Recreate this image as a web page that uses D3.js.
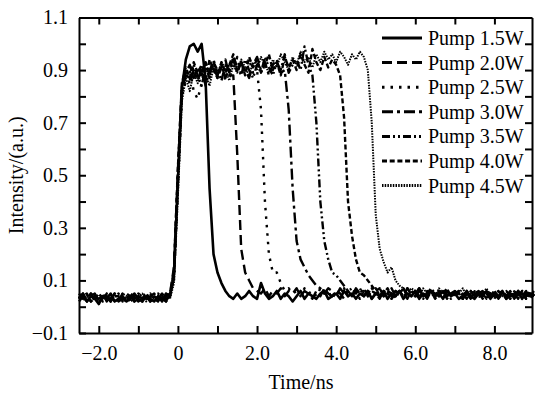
<!DOCTYPE html>
<html>
<head>
<meta charset="utf-8">
<script src="https://cdn.jsdelivr.net/npm/d3@7"></script>
<style>
  body { margin: 0; background: #fff; }
  svg text { font-family: "Liberation Serif", Tinos, "Times New Roman", "DejaVu Serif", serif; fill: #000; }
</style>
</head>
<body>
<div id="container"></div>
<script>
// sampling grid of the traces (ns)
const timeStart = -2.5;
const timeStep = 0.1;

const pump15 = [
  0.03,0.05,0.02,0.04,0.03,0.01,0.04,0.03,0.05,0.02,
  0.03,0.04,0.02,0.03,0.05,0.03,0.02,0.04,0.03,0.02,
  0.04,0.02,0.05,0.04,0.12,
  0.48,0.83,0.94,0.99,1.00, 0.97,1.00,0.86,0.45,0.20, 0.13,0.09,0.06,0.04,0.03,
  0.05,0.03,0.04,0.06,0.04, 0.03,0.09,0.05,0.03,0.04, 0.06,0.03,0.05,0.04,0.02,
  0.04,0.06,0.03,0.05,0.04, 0.03,0.05,0.06,0.03,0.04, 0.05,0.03,0.06,0.04,0.05,
  0.03,0.05,0.04,0.06,0.03, 0.05,0.04,0.06,0.03,0.05, 0.04,0.06,0.03,0.05,0.04,
  0.06,0.03,0.05,0.04,0.06, 0.04,0.05,0.03,0.06,0.04, 0.05,0.03,0.04,0.06,0.04,
  0.03,0.05,0.04,0.06,0.03, 0.05,0.04,0.06,0.03,0.05, 0.04,0.06,0.03,0.05,0.04,0.05
];
const pump20 = [
  0.02,0.04,0.03,0.05,0.02,0.03,0.04,0.02,0.03,0.05,
  0.02,0.03,0.05,0.04,0.02,0.04,0.03,0.05,0.02,0.04,
  0.03,0.05,0.02,0.05,0.15,
  0.52,0.84,0.89,0.92,0.87, 0.91,0.88,0.93,0.89,0.92, 0.87,0.91,0.94,0.88,0.88,
  0.58,0.22,0.13,0.10,0.07, 0.06,0.05,0.07,0.04,0.06, 0.05,0.07,0.04,0.06,0.05,
  0.07,0.04,0.06,0.05,0.03, 0.06,0.04,0.07,0.05,0.04, 0.06,0.05,0.03,0.06,0.04,
  0.07,0.05,0.04,0.06,0.03, 0.05,0.07,0.04,0.06,0.05, 0.03,0.06,0.04,0.07,0.05,
  0.04,0.06,0.05,0.03,0.06, 0.05,0.04,0.06,0.03,0.05, 0.06,0.04,0.05,0.03,0.06,
  0.04,0.06,0.03,0.05,0.04, 0.06,0.03,0.05,0.04,0.06, 0.03,0.05,0.04,0.06,0.03,0.05
];
const pump25 = [
  0.04,0.02,0.03,0.05,0.03,0.04,0.02,0.05,0.03,0.04,
  0.05,0.02,0.04,0.03,0.02,0.05,0.04,0.03,0.05,0.03,
  0.02,0.04,0.03,0.06,0.10,
  0.45,0.80,0.86,0.90,0.82, 0.79,0.85,0.92,0.88,0.94, 0.89,0.92,0.86,0.93,0.90,
  0.95,0.88,0.91,0.94,0.89, 0.90,0.75,0.40,0.20,0.13, 0.13,0.09,0.06,0.07,0.05,
  0.06,0.04,0.07,0.05,0.06, 0.04,0.07,0.05,0.06,0.03, 0.06,0.05,0.07,0.04,0.06,
  0.05,0.03,0.06,0.04,0.07, 0.05,0.06,0.04,0.06,0.03, 0.06,0.04,0.05,0.07,0.04,
  0.05,0.03,0.06,0.05,0.04, 0.06,0.04,0.05,0.03,0.06, 0.04,0.06,0.03,0.05,0.04,
  0.05,0.03,0.06,0.04,0.05, 0.03,0.06,0.04,0.05,0.03, 0.05,0.04,0.06,0.03,0.05,0.04
];
const pump30 = [
  0.03,0.05,0.02,0.04,0.05,0.02,0.03,0.04,0.02,0.05,
  0.03,0.04,0.02,0.05,0.03,0.04,0.02,0.03,0.04,0.05,
  0.03,0.02,0.04,0.05,0.13,
  0.50,0.82,0.88,0.85,0.90, 0.86,0.91,0.84,0.90,0.93, 0.88,0.92,0.87,0.91,0.94,
  0.89,0.93,0.90,0.87,0.92, 0.95,0.90,0.93,0.88,0.92, 0.94,0.89,0.90,0.75,0.45,
  0.25,0.18,0.15,0.12,0.10, 0.08,0.07,0.05,0.07,0.06, 0.04,0.07,0.05,0.06,0.04,
  0.06,0.05,0.07,0.04,0.06, 0.05,0.03,0.06,0.05,0.07, 0.04,0.06,0.05,0.03,0.06,
  0.05,0.07,0.04,0.05,0.06, 0.03,0.05,0.06,0.04,0.05, 0.06,0.04,0.03,0.05,0.06,
  0.04,0.05,0.06,0.03,0.05, 0.04,0.06,0.05,0.03,0.04, 0.06,0.04,0.05,0.03,0.06,0.04
];
const pump35 = [
  0.05,0.03,0.04,0.02,0.04,0.03,0.05,0.02,0.04,0.03,
  0.02,0.05,0.03,0.04,0.02,0.03,0.05,0.04,0.02,0.03,
  0.05,0.03,0.02,0.04,0.11,
  0.47,0.81,0.90,0.86,0.92, 0.88,0.84,0.91,0.87,0.93, 0.90,0.86,0.92,0.89,0.95,
  0.91,0.88,0.94,0.90,0.87, 0.92,0.89,0.95,0.91,0.88, 0.93,0.90,0.96,0.89,0.92,
  0.94,0.90,0.99,0.92,0.88, 0.70,0.40,0.25,0.18,0.13, 0.12,0.10,0.08,0.06,0.07,
  0.05,0.07,0.04,0.06,0.05, 0.07,0.04,0.06,0.05,0.03, 0.06,0.05,0.07,0.04,0.06,
  0.04,0.06,0.03,0.05,0.07, 0.05,0.04,0.06,0.05,0.03, 0.05,0.06,0.04,0.05,0.03,
  0.06,0.04,0.05,0.03,0.06, 0.05,0.03,0.06,0.04,0.05, 0.03,0.06,0.04,0.05,0.04,0.06
];
const pump40 = [
  0.03,0.04,0.05,0.02,0.03,0.05,0.03,0.04,0.02,0.04,
  0.04,0.03,0.02,0.05,0.04,0.02,0.03,0.05,0.03,0.04,
  0.02,0.05,0.03,0.04,0.14,
  0.53,0.85,0.91,0.87,0.93, 0.89,0.92,0.86,0.94,0.90, 0.87,0.93,0.89,0.92,0.96,
  0.90,0.93,0.88,0.95,0.91, 0.94,0.89,0.92,0.96,0.90, 0.93,0.88,0.95,0.91,0.94,
  0.90,0.96,0.92,0.89,0.98, 0.93,0.90,0.95,0.91,0.94, 0.92,0.88,0.72,0.40,0.27,
  0.18,0.13,0.12,0.10,0.08, 0.06,0.07,0.05,0.07,0.04, 0.06,0.05,0.07,0.04,0.06,
  0.05,0.07,0.04,0.06,0.05, 0.04,0.06,0.05,0.07,0.04, 0.06,0.05,0.03,0.06,0.04,
  0.05,0.06,0.04,0.05,0.03, 0.06,0.04,0.05,0.06,0.04, 0.05,0.03,0.06,0.04,0.05,0.04
];
const pump45 = [
  0.04,0.03,0.02,0.05,0.04,0.02,0.03,0.05,0.04,0.02,
  0.03,0.05,0.04,0.02,0.03,0.04,0.05,0.02,0.04,0.03,
  0.04,0.03,0.05,0.03,0.09,
  0.42,0.78,0.87,0.82,0.89, 0.85,0.90,0.88,0.84,0.91, 0.88,0.93,0.90,0.86,0.92,
  0.89,0.94,0.91,0.88,0.93, 0.90,0.95,0.92,0.89,0.94, 0.91,0.96,0.93,0.90,0.95,
  0.92,0.97,0.93,0.95,0.91, 0.96,0.93,0.97,0.94,0.96, 0.93,0.97,0.95,0.92,0.96,
  0.94,0.97,0.95,0.90,0.70, 0.35,0.22,0.17,0.13,0.15, 0.10,0.08,0.07,0.05,0.07,
  0.06,0.04,0.07,0.05,0.06, 0.04,0.07,0.05,0.06,0.04, 0.06,0.05,0.07,0.04,0.05,
  0.06,0.04,0.05,0.07,0.04, 0.05,0.06,0.04,0.05,0.03, 0.06,0.04,0.05,0.03,0.05,0.04
];

const seriesNames = ["Pump 1.5W", "Pump 2.0W", "Pump 2.5W", "Pump 3.0W", "Pump 3.5W", "Pump 4.0W", "Pump 4.5W"];
const seriesValues = [pump15, pump20, pump25, pump30, pump35, pump40, pump45];

const xTicks = [-2, -1, 0, 1, 2, 3, 4, 5, 6, 7, 8];
const xLabels = {"-2": "\u22122.0", "0": "0", "2": "2.0", "4": "4.0", "6": "6.0", "8": "8.0"};
const yTicks = [-0.1, 0, 0.1, 0.2, 0.3, 0.4, 0.5, 0.6, 0.7, 0.8, 0.9, 1.0, 1.1];
const yLabels = ["\u22120.1", "0.1", "0.3", "0.5", "0.7", "0.9", "1.1"];

const styles = [
  {dash: null, width: 2.6},
  {dash: "10,5", width: 2.4},
  {dash: "2.5,6", width: 2.4},
  {dash: "11,4,3,4", width: 2.4},
  {dash: "8,3,2,3,2,3", width: 2.4},
  {dash: "5,2.7", width: 2.4},
  {dash: "1.5,1.2", width: 2}
];

const serif = "'Liberation Serif', Tinos, 'Times New Roman', 'DejaVu Serif', serif";

const margin = {top: 17.5, right: 3, bottom: 61, left: 79};
const outerW = 535, outerH = 394;
const width = outerW - margin.left - margin.right;
const height = outerH - margin.top - margin.bottom;

const svg = d3.select("#container")
  .append("svg")
  .attr("width", outerW)
  .attr("height", outerH)
  .attr("font-family", serif);

const g = svg.append("g")
  .attr("transform", `translate(${margin.left},${margin.top})`);

const x = d3.scaleLinear().domain([-2.5, 8.95]).range([0, width]);
const y = d3.scaleLinear().domain([-0.1, 1.1]).range([height, 0]);

const line = d3.line()
  .x(d => x(d.t))
  .y(d => y(d.v));

seriesValues.forEach((vals, k) => {
  const pts = vals.map((v, i) => ({t: timeStart + i * timeStep, v: v}));
  g.append("path")
    .datum(pts)
    .attr("fill", "none")
    .attr("stroke", "#000")
    .attr("stroke-width", styles[k].width)
    .attr("stroke-dasharray", styles[k].dash)
    .attr("stroke-linejoin", "round")
    .attr("d", line);
});

// axes, ticks pointing inward on all four sides
const fmtX = d => xLabels[String(d)] || "";
const fmtY = d => {
  const s = d3.format(".1f")(d);
  return yLabels.includes(s) ? s : "";
};

const styleAxis = sel => {
  sel.attr("font-family", serif).attr("font-size", 20);
  sel.select(".domain").attr("stroke-width", 2);
  sel.selectAll(".tick line").attr("stroke-width", 2);
  sel.selectAll(".tick text").style("font-family", serif).style("font-size", "20px");
};

g.append("g")
  .attr("transform", `translate(0,${height})`)
  .call(d3.axisBottom(x).tickValues(xTicks).tickSize(-7).tickSizeOuter(0).tickPadding(13).tickFormat(fmtX))
  .call(styleAxis);

g.append("g")
  .call(d3.axisTop(x).tickValues(xTicks).tickSize(-7).tickSizeOuter(0).tickFormat(""))
  .call(styleAxis);

g.append("g")
  .call(d3.axisLeft(y).tickValues(yTicks).tickSize(-7).tickSizeOuter(0).tickPadding(11).tickFormat(fmtY))
  .call(styleAxis);

g.append("g")
  .attr("transform", `translate(${width},0)`)
  .call(d3.axisRight(y).tickValues(yTicks).tickSize(-7).tickSizeOuter(0).tickFormat(""))
  .call(styleAxis);

// axis titles
svg.append("text")
  .attr("x", 301)
  .attr("y", 389)
  .attr("text-anchor", "middle")
  .style("font-family", serif)
  .style("font-size", "20px")
  .text("Time/ns");

svg.append("text")
  .attr("transform", `translate(23,${margin.top + height / 2}) rotate(-90)`)
  .attr("text-anchor", "middle")
  .style("font-family", serif)
  .style("font-size", "20px")
  .text("Intensity/(a.u.)");

// legend
const legend = svg.append("g")
  .attr("transform", "translate(382,38)");

seriesNames.forEach((name, k) => {
  const item = legend.append("g")
    .attr("transform", `translate(0,${k * 24.6})`);
  item.append("line")
    .attr("x1", 0).attr("x2", 40)
    .attr("y1", 0).attr("y2", 0)
    .attr("stroke", "#000")
    .attr("stroke-width", 3)
    .attr("stroke-dasharray", styles[k].dash);
  item.append("text")
    .attr("x", 46)
    .attr("y", 7)
    .style("font-family", serif)
    .style("font-size", "20px")
    .text(name);
});
</script>
</body>
</html>
